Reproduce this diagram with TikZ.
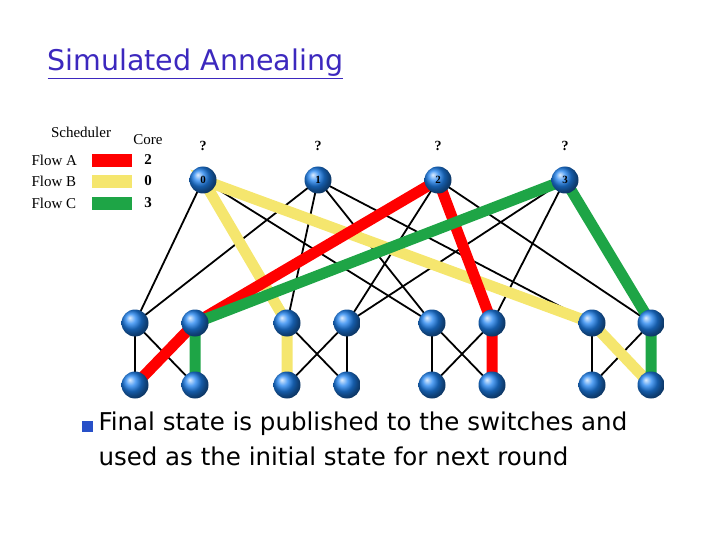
\documentclass[tikz,border=0pt]{standalone}
\usepackage{fontspec}
\setmainfont{Liberation Serif}
\newfontfamily\titlefont{DejaVu Sans}
\definecolor{fbc}{RGB}{245,230,110}
\definecolor{fcc}{RGB}{30,165,70}
\definecolor{ttl}{RGB}{60,40,190}
\definecolor{swc}{RGB}{30,130,240}
\definecolor{bulc}{RGB}{40,80,200}
\begin{document}
\begin{tikzpicture}[x=1pt,y=-1pt,
  sw/.style={circle,minimum size=27pt,inner sep=0pt,ball color=swc,font=\bfseries\fontsize{11}{11}\selectfont},
  lk/.style={line width=1.8pt,black},
  fa/.style={line width=11pt,red},
  fb/.style={line width=11pt,fbc},
  fc/.style={line width=11pt,fcc},
  lt/.style={font=\fontsize{15}{15}\selectfont,anchor=west}]
\useasboundingbox (0,0) rectangle (720,540);
\node[anchor=west,text=ttl,font=\titlefont\fontsize{28.5}{28}\selectfont] (title) at (44,64) {\underline{Simulated Annealing}};
\node[font=\fontsize{15}{15}\selectfont] (sch) at (81,132) {Scheduler};
\node[font=\fontsize{15}{15}\selectfont] (core) at (148,140) {Core};
\node[lt] (fA) at (28,160) {Flow A};
\node[lt] (fB) at (28,181) {Flow B};
\node[lt] (fC) at (28,203) {Flow C};
\fill[red] (92,154) rectangle (132,167);
\fill[fbc] (92,175) rectangle (132,188);
\fill[fcc] (92,197) rectangle (132,210);
\node[font=\bfseries\fontsize{15}{15}\selectfont] (n2) at (148,160) {2};
\node[font=\bfseries\fontsize{15}{15}\selectfont] (n0) at (148,181) {0};
\node[font=\bfseries\fontsize{15}{15}\selectfont] (n3) at (148,203) {3};
\foreach \x/\i in {203/0,318/1,438/2,565/3}{
  \node[font=\bfseries\fontsize{14}{14}\selectfont] (q\i) at (\x,146) {?};
  \coordinate (c\i) at (\x,180);}
\foreach \x/\i in {135/1,195/2,287/3,347/4,432/5,492/6,592/7,651/8}{
  \coordinate (a\i) at (\x,323);
  \coordinate (e\i) at (\x,385);}
\foreach \c in {0,1}{\foreach \a in {1,3,5,7}{\draw[lk] (c\c)--(a\a);}}
\foreach \c in {2,3}{\foreach \a in {2,4,6,8}{\draw[lk] (c\c)--(a\a);}}
\foreach \p/\q in {1/2,3/4,5/6,7/8}{
  \draw[lk] (a\p)--(e\p); \draw[lk] (a\p)--(e\q); \draw[lk] (a\q)--(e\p); \draw[lk] (a\q)--(e\q);}
\draw[fb] (e3)--(a3)--(c0)--(a7)--(e8);
\draw[fa] (e1)--(a2)--(c2)--(a6)--(e6);
\draw[fc] (e2)--(a2)--(c3)--(a8)--(e8);
\foreach \i in {0,...,3}{\node[sw] (C\i) at (c\i) {\i};}
\foreach \i in {1,...,8}{\node[sw] (A\i) at (a\i) {}; \node[sw] (E\i) at (e\i) {};}
\node[anchor=west,fill=bulc,minimum size=11pt,inner sep=0pt] (bul) at (82,426) {};
\node[anchor=north west,align=left,font=\titlefont\fontsize{24.5}{35}\selectfont] (txt) at (95,408) {Final state is published to the switches and\\used as the initial state for next round};
\end{tikzpicture}
\end{document}
